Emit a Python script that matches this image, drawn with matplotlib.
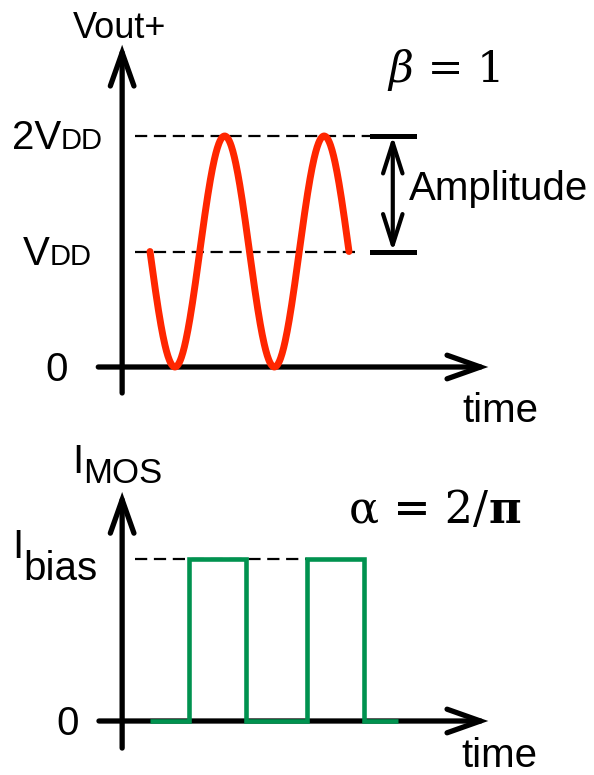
import numpy as np
import matplotlib
matplotlib.use('Agg')
import matplotlib.pyplot as plt

plt.rcParams['font.family'] = ['Liberation Sans', 'DejaVu Sans']

# output voltage: sine around V_DD, swinging from 0 to 2*V_DD
V_DD = 1.0
AMPLITUDE = 1.0
N_CYCLES = 2
t_sine = np.linspace(0, N_CYCLES, 400)
v_out = V_DD - AMPLITUDE * np.sin(2 * np.pi * t_sine)

# transistor current: square pulses between 0 and I_bias
I_BIAS = 1.0
pulse_t = [0.0, 0.392, 0.392, 0.965, 0.965, 1.578, 1.578, 2.151, 2.151, 2.49]
pulse_i = [0, 0, 1, 1, 0, 0, 1, 1, 0, 0]

RED = '#ff2600'
GREEN = '#00924f'
BIG = 29
SMALL = 21


def axis_arrow(ax, tail, tip):
    ax.annotate('', xy=tip, xytext=tail, annotation_clip=False,
                arrowprops=dict(arrowstyle='->,head_length=2.4,head_width=0.85',
                                lw=3.8, color='k', shrinkA=0, shrinkB=0,
                                capstyle='round', joinstyle='miter'))


def dashed(ax, x0, x1, y):
    ax.plot([x0, x1], [y, y], color='k', lw=1.6, dashes=(5.5, 3), clip_on=False)


def sub_label(ax, x, y, main, sub, sub_size, sub_dy):
    """Main letter at (x, baseline y) followed by a smaller/lowered part."""
    t = ax.text(x, y, main, fontsize=BIG, ha='left', va='baseline')
    ax.annotate(sub, xy=(1, 0), xycoords=t, ha='left', va='bottom',
                xytext=(0, sub_dy), textcoords='offset points', fontsize=sub_size)


def vdd_label(ax, x_right, y, prefix):
    """'V_DD' style label right-aligned at x_right, small caps on the same baseline."""
    t = ax.text(x_right, y, 'DD', fontsize=SMALL, ha='right', va='baseline')
    ax.annotate(prefix, xy=(0, 0), xycoords=t, ha='right', va='bottom',
                xytext=(0, -1.7), textcoords='offset points', fontsize=BIG)


fig = plt.figure(figsize=(5.94, 7.75), dpi=100)

# ---- top panel: Vout+ ----
ax1 = fig.add_axes([150 / 594, 1 - 367 / 775, 199 / 594, 231 / 775])
ax1.set_xlim(0, 2)
ax1.set_ylim(0, 2)
ax1.axis('off')

axis_arrow(ax1, (-0.28, -0.225), (-0.28, 2.79))
axis_arrow(ax1, (-0.52, 0), (3.40, 0))

dashed(ax1, -0.15, 2.23, 2 * V_DD)
dashed(ax1, -0.15, 2.08, V_DD)

ax1.plot(t_sine, v_out, color=RED, lw=5, solid_capstyle='round', clip_on=False, zorder=3)

# amplitude marker
x_amp = 2.44
for lvl in (V_DD, V_DD + AMPLITUDE):
    ax1.plot([2.23, 2.65], [lvl, lvl], color='k', lw=3.6, clip_on=False)
ax1.annotate('', xy=(x_amp, V_DD + AMPLITUDE), xytext=(x_amp, V_DD), annotation_clip=False,
             arrowprops=dict(arrowstyle='<->,head_length=2.2,head_width=0.7',
                             lw=3.0, color='k', shrinkA=0, shrinkB=0))
ax1.text(2.60, 1.446, 'Amplitude', fontsize=BIG, ha='left', va='baseline')

ax1.text(-0.307, 2.848, 'Vout+', fontsize=26, ha='center', va='baseline')
vdd_label(ax1, -0.472, 1.887, '2V')
vdd_label(ax1, -0.583, 0.883, 'V')
ax1.text(-0.935, -0.121, '0', fontsize=BIG, ha='center', va='baseline')
ax1.text(3.518, -0.476, 'time', fontsize=BIG, ha='center', va='baseline')

tb = ax1.text(2.40, 2.468, 'β', fontsize=31, family='DejaVu Serif', style='italic',
              ha='left', va='baseline')
ax1.annotate(' = 1', xy=(1, 0), xycoords=tb, ha='left', va='bottom',
             fontsize=31, family='DejaVu Serif')

# ---- bottom panel: I_MOS ----
ax2 = fig.add_axes([150 / 594, 1 - 721 / 775, 199 / 594, 162 / 775])
ax2.set_xlim(0, 2)
ax2.set_ylim(0, 1)
ax2.axis('off')

axis_arrow(ax2, (-0.28, -0.167), (-0.28, 1.414))
axis_arrow(ax2, (-0.513, 0), (3.40, 0))

dashed(ax2, -0.15, 1.578, I_BIAS)

ax2.plot(pulse_t, pulse_i, color=GREEN, lw=3.3, solid_joinstyle='miter',
         solid_capstyle='butt', clip_on=False, zorder=3)

sub_label(ax2, -0.78, 1.531, 'I', 'MOS', 25, -6.3)
sub_label(ax2, -1.38, 1.006, 'I', 'bias', BIG, -15.8)
ax2.text(-0.824, -0.086, '0', fontsize=BIG, ha='center', va='baseline')
ax2.text(3.508, -0.284, 'time', fontsize=BIG, ha='center', va='baseline')

ta = ax2.text(2.0, 1.222, 'α = 2/', fontsize=32, family='DejaVu Serif',
              ha='left', va='baseline')
ax2.annotate('π', xy=(1, 0), xycoords=ta, ha='left', va='bottom',
             fontsize=32, family='DejaVu Serif', fontweight='bold')

fig.savefig('out.png', dpi=100)
